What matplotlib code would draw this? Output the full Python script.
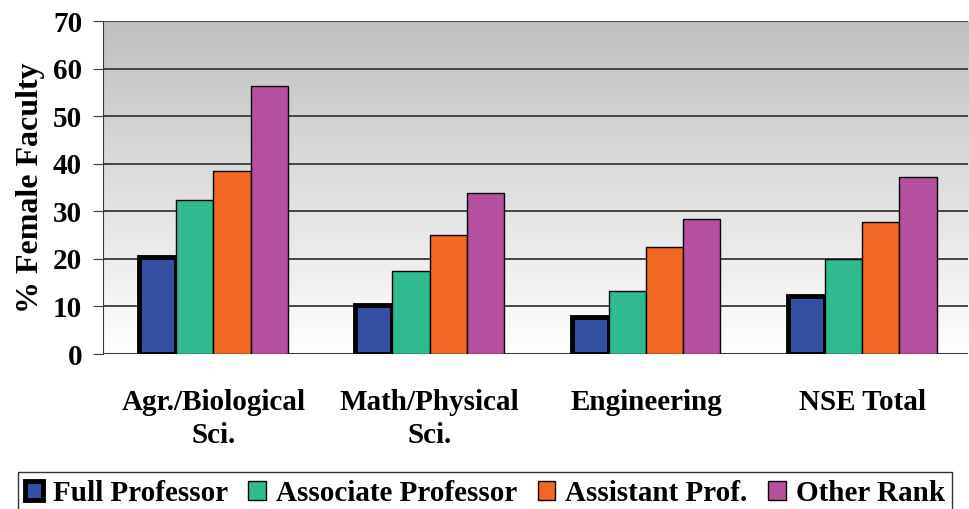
import matplotlib.pyplot as plt
import numpy as np

# data
categories = ['Agr./Biological\nSci.', 'Math/Physical\nSci.', 'Engineering', 'NSE Total']
ranks = ['Full Professor', 'Associate Professor', 'Assistant Prof.', 'Other Rank']
full_prof = [20.4, 10.3, 7.8, 12.2]
assoc_prof = [32.4, 17.4, 13.2, 20.0]
asst_prof = [38.5, 25.0, 22.5, 27.7]
other_rank = [56.3, 33.8, 28.4, 37.2]
colors = ['#3550a3', '#2fbb8f', '#f06824', '#b5509f']

plt.rcParams['font.family'] = ['Liberation Serif', 'DejaVu Serif']
plt.rcParams['font.weight'] = 'bold'
plt.rcParams['axes.labelweight'] = 'bold'

fig = plt.figure(figsize=(9.7, 5.09), dpi=100)
ax = fig.add_axes([0.1062, 0.3045, 0.892, 0.6542])

# gray (top) to white (bottom) background
shade = np.linspace(0.75, 1.0, 256).reshape(-1, 1)
rgb = np.dstack([shade, shade, shade])
ax.imshow(rgb, extent=[-0.5, 3.5, 0, 70], aspect='auto', zorder=0)

x = np.arange(len(categories))
w = 0.172
series = [full_prof, assoc_prof, asst_prof, other_rank]
for i, (vals, c) in enumerate(zip(series, colors)):
    lw = 3.5 if i == 0 else 1.0
    ax.bar(x + (i - 1.5) * w + 0.01, vals, w, color=c, edgecolor='black',
           linewidth=lw, label=ranks[i], zorder=3)

ax.set_xlim(-0.5, 3.5)
ax.set_ylim(0, 70)
ax.set_yticks(range(0, 71, 10))
ax.yaxis.grid(True, color='#3a3a3a', linewidth=1.3, zorder=1)
ax.set_axisbelow(True)
for s in ['top', 'right', 'bottom']:
    ax.spines[s].set_visible(False)
ax.spines['left'].set_color('#3a3a3a')
ax.axhline(0, color='#3a3a3a', linewidth=1.5, zorder=2)
ax.tick_params(axis='y', length=7, color='#3a3a3a', labelsize=21, pad=8)
ax.tick_params(axis='x', length=0, labelsize=21, pad=25)
ax.set_xticks(x + 0.01)
ax.set_xticklabels(categories, linespacing=1.3)
ax.set_ylabel('% Female Faculty', fontsize=23, labelpad=6)

leg = fig.legend(loc='upper center', bbox_to_anchor=(0.5, 0.072),
                 ncol=4, fontsize=21, frameon=True, fancybox=False,
                 handlelength=0.6, handleheight=0.6, handletextpad=0.35,
                 columnspacing=0.7, borderpad=0.25, borderaxespad=0.0)
leg.get_frame().set_edgecolor('black')
leg.get_frame().set_linewidth(1.0)

fig.savefig('out.png', dpi=100)
